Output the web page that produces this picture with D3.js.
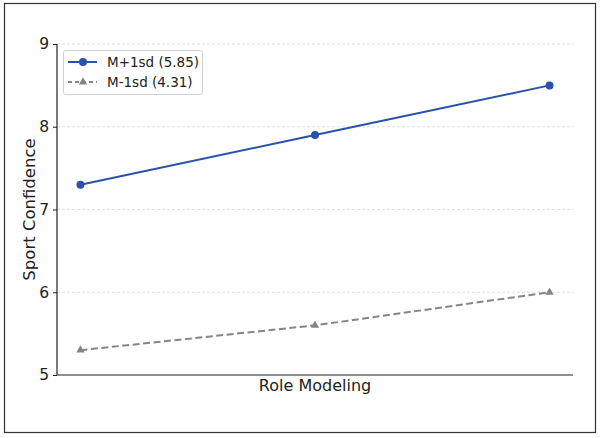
<!DOCTYPE html>
<html><head><meta charset="utf-8">
<script src="https://cdn.jsdelivr.net/npm/d3@7"></script>
<style>body{margin:0;background:#fff;} svg{display:block;}</style>
</head><body>
<svg id="c" width="600" height="438"></svg>
<script>
const categories = [0, 1, 2];
const seriesNames = ["M+1sd (5.85)", "M-1sd (4.31)"];
const highValues = [7.3, 7.9, 8.5];
const lowValues = [5.3, 5.6, 6.0];
const yTicks = [5, 6, 7, 8, 9];

const svg = d3.select("#c");
const font = "DejaVu Sans, sans-serif";
svg.append("rect").attr("x", 4.5).attr("y", 3.5).attr("width", 591).attr("height", 429)
  .attr("fill", "#fff").attr("stroke", "#333").attr("stroke-width", 1.2);

const L = 57, R = 573, T = 44, B = 375;
const x = d3.scaleLinear().domain([-0.1, 2.1]).range([L, R]);
const y = d3.scaleLinear().domain([5, 9]).range([B, T]);

// grid
svg.append("g").selectAll("line").data(yTicks.slice(1)).join("line")
  .attr("x1", L).attr("x2", R).attr("y1", d => y(d)).attr("y2", d => y(d))
  .attr("stroke", "#d8d8d8").attr("stroke-width", 0.8).attr("stroke-dasharray", "3,2");

// y axis
const ya = svg.append("g").attr("transform", `translate(${L},0)`)
  .call(d3.axisLeft(y).tickValues(yTicks).tickFormat(d3.format("d")).tickSize(4).tickPadding(4));
ya.select(".domain").attr("stroke", "#222").attr("stroke-width", 1.2).attr("d", `M0,${B}V${T}`);
ya.selectAll(".tick line").attr("stroke", "#222");
ya.selectAll("text").attr("font-family", font).attr("font-size", 15.5).attr("fill", "#222");

// x axis line
svg.append("line").attr("x1", L).attr("x2", R).attr("y1", B).attr("y2", B)
  .attr("stroke", "#222").attr("stroke-width", 1.2);

// labels
svg.append("text").attr("x", (L + R) / 2).attr("y", 391).attr("text-anchor", "middle")
  .attr("font-family", font).attr("font-size", 16).attr("fill", "#222").text("Role Modeling");
svg.append("text").attr("transform", `translate(35,${(T + B) / 2}) rotate(-90)`).attr("text-anchor", "middle")
  .attr("font-family", font).attr("font-size", 16.5).attr("fill", "#222").text("Sport Confidence");

const blue = "#2a52a8", grey = "#858585";
const line = d3.line().x((d, i) => x(categories[i])).y(d => y(d));

svg.append("path").datum(highValues).attr("d", line).attr("fill", "none")
  .attr("stroke", blue).attr("stroke-width", 2);
svg.append("g").selectAll("circle").data(highValues).join("circle")
  .attr("cx", (d, i) => x(categories[i])).attr("cy", d => y(d)).attr("r", 4).attr("fill", blue);

svg.append("path").datum(lowValues).attr("d", line).attr("fill", "none")
  .attr("stroke", grey).attr("stroke-width", 2).attr("stroke-dasharray", "7,3.5");
const tri = d3.symbol().type(d3.symbolTriangle).size(30);
svg.append("g").selectAll("path").data(lowValues).join("path")
  .attr("transform", (d, i) => `translate(${x(categories[i])},${y(d)})`).attr("d", tri).attr("fill", grey);

// legend
const lg = svg.append("g");
lg.append("rect").attr("x", 63.5).attr("y", 50.5).attr("width", 139).attr("height", 44).attr("rx", 2)
  .attr("fill", "#fff").attr("fill-opacity", 0.85).attr("stroke", "#d0d0d0");
const rows = [
  {name: seriesNames[0], color: blue, dash: null, sym: "c", y: 62},
  {name: seriesNames[1], color: grey, dash: "4,3", sym: "t", y: 82}
];
rows.forEach(r => {
  lg.append("line").attr("x1", 68).attr("x2", 97).attr("y1", r.y).attr("y2", r.y)
    .attr("stroke", r.color).attr("stroke-width", 2).attr("stroke-dasharray", r.dash);
  if (r.sym === "c") lg.append("circle").attr("cx", 83).attr("cy", r.y).attr("r", 4).attr("fill", r.color);
  else lg.append("path").attr("transform", `translate(83,${r.y})`).attr("d", tri).attr("fill", r.color);
  lg.append("text").attr("x", 107).attr("y", r.y).attr("dy", "0.35em").attr("font-family", font)
    .attr("font-size", 13.5).attr("fill", "#222").text(r.name);
});
</script>
</body></html>
